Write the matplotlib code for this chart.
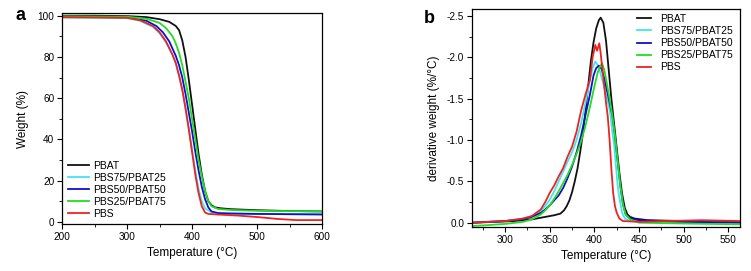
import numpy as np
import matplotlib
matplotlib.use("Agg")
import matplotlib.pyplot as plt
from matplotlib.ticker import MultipleLocator, FormatStrFormatter

plt.rcParams['font.family'] = ['Liberation Sans', 'DejaVu Sans']
plt.rcParams['axes.unicode_minus'] = False

labels = ["PBAT", "PBS75/PBAT25", "PBS50/PBAT50", "PBS25/PBAT75", "PBS"]
colors = ["#111111", "#44e4f0", "#1010cc", "#22dd22", "#ee2222"]

# --- panel a: TGA weight (%) vs temperature ---
tga_t_pbat = [200, 250, 300, 330, 350, 365, 375, 380, 385, 390, 395, 400, 405, 410, 415,
              420, 425, 430, 435, 445, 460, 500, 550, 600]
tga_w_pbat = [100, 100, 99.8, 99.3, 98.3, 97, 95, 93, 88, 80, 69, 57, 45, 33, 23,
              15, 10, 8, 7, 6.5, 6.1, 5.6, 5.2, 5.0]
tga_t_75 = [200, 300, 320, 340, 350, 360, 365, 370, 375, 380, 385, 390, 395, 400, 405,
            410, 415, 420, 430, 450, 500, 600]
tga_w_75 = [99, 98.8, 97.5, 94.5, 91.5, 87, 84, 81, 77, 71, 64, 55, 45, 35, 25,
            16, 10, 6.5, 4.5, 4, 3.8, 3.7]
tga_t_50 = [200, 300, 330, 345, 355, 365, 370, 375, 380, 385, 390, 395, 400, 405, 410,
            415, 420, 425, 430, 440, 460, 500, 600]
tga_w_50 = [99.5, 99.2, 97.5, 95, 92, 87.5, 84, 80.5, 76, 70, 62, 53, 44, 34, 25,
            17, 11, 7, 5, 4.2, 4, 3.8, 3.5]
tga_t_25 = [200, 300, 330, 350, 360, 370, 375, 380, 385, 390, 395, 400, 405, 410, 415,
            420, 425, 430, 440, 460, 500, 600]
tga_w_25 = [99.7, 99.5, 98.5, 96.5, 94, 90, 86.5, 82, 76, 68, 60, 50, 40, 30, 22,
            15, 10, 7.5, 6.2, 5.7, 5.3, 5.0]
tga_t_pbs = [200, 300, 320, 340, 350, 360, 370, 375, 380, 385, 390, 395, 400, 405, 410,
             415, 420, 425, 440, 470, 500, 530, 560, 600]
tga_w_pbs = [99.3, 99, 97.8, 95, 92, 87.5, 81, 77, 71, 64, 55, 45, 34, 23, 14,
             7.5, 4.5, 3.8, 3.5, 3.0, 2.3, 1.4, 0.8, 0.8]

# --- panel b: DTG derivative weight (%/°C) vs temperature ---
dtg_t_pbat = [263, 290, 310, 330, 345, 355, 362, 366, 369, 372, 375, 378, 381, 384, 387,
              390, 393, 396, 399, 402, 405, 407, 410, 413, 416, 419, 422, 425, 428, 431,
              434, 437, 440, 445, 460, 500, 563]
dtg_v_pbat = [0, -0.01, -0.02, -0.04, -0.07, -0.09, -0.11, -0.15, -0.2, -0.27, -0.37, -0.5,
              -0.65, -0.85, -1.07, -1.35, -1.65, -1.95, -2.18, -2.35, -2.45, -2.48, -2.42,
              -2.2, -1.85, -1.5, -1.2, -0.9, -0.6, -0.35, -0.18, -0.1, -0.07, -0.05, -0.03,
              -0.02, -0.01]
dtg_t_75 = [263, 300, 320, 330, 340, 345, 350, 355, 360, 365, 370, 375, 380, 385, 390,
            395, 398, 401, 404, 407, 410, 413, 416, 418, 420, 422, 424, 426, 428, 431,
            434, 440, 470, 563]
dtg_v_75 = [-0.005, -0.02, -0.05, -0.08, -0.15, -0.2, -0.28, -0.38, -0.5, -0.62, -0.74,
            -0.85, -1.0, -1.2, -1.45, -1.72, -1.87, -1.95, -1.9, -1.8, -1.68, -1.55, -1.42,
            -1.3, -1.1, -0.95, -0.7, -0.45, -0.3, -0.12, -0.05, -0.02, -0.005, 0.0]
dtg_t_50 = [263, 300, 320, 330, 340, 345, 350, 355, 360, 365, 370, 375, 380, 385, 390,
            395, 399, 402, 405, 408, 411, 414, 417, 420, 423, 426, 429, 432, 435, 440,
            450, 500, 563]
dtg_v_50 = [0.0, -0.02, -0.04, -0.07, -0.12, -0.16, -0.21, -0.27, -0.33, -0.42, -0.54,
            -0.68, -0.85, -1.05, -1.3, -1.55, -1.78, -1.87, -1.9, -1.86, -1.75, -1.6,
            -1.45, -1.3, -1.05, -0.75, -0.45, -0.22, -0.1, -0.05, -0.03, -0.01, 0.0]
dtg_t_25 = [263, 280, 300, 320, 330, 340, 345, 350, 355, 360, 365, 370, 375, 380, 385,
            390, 395, 400, 404, 406, 408.5, 411, 414, 417, 420, 423, 426, 429, 432, 435,
            440, 450, 500, 563]
dtg_v_25 = [0.04, 0.03, 0.015, -0.01, -0.04, -0.1, -0.15, -0.21, -0.29, -0.38, -0.48,
            -0.58, -0.7, -0.83, -0.98, -1.17, -1.4, -1.65, -1.83, -1.88, -1.93, -1.85,
            -1.68, -1.5, -1.3, -1.05, -0.75, -0.45, -0.22, -0.1, -0.04, 0.0, 0.01, 0.02]
dtg_t_pbs = [263, 300, 320, 330, 340, 345, 350, 355, 360, 365, 370, 375, 380, 385, 390,
             395, 398, 401, 403, 405.5, 407, 409, 411, 413, 415, 417, 419, 421, 423, 425,
             428, 432, 450, 480, 520, 563]
dtg_v_pbs = [0.0, -0.02, -0.05, -0.08, -0.16, -0.25, -0.36, -0.45, -0.56, -0.66, -0.8,
             -0.92, -1.1, -1.35, -1.55, -1.73, -2.0, -2.15, -2.08, -2.17, -2.05, -1.85,
             -1.65, -1.45, -1.28, -1.0, -0.65, -0.36, -0.2, -0.12, -0.05, -0.02, -0.01,
             -0.02, -0.03, -0.02]

tga = [(tga_t_pbat, tga_w_pbat), (tga_t_75, tga_w_75), (tga_t_50, tga_w_50),
       (tga_t_25, tga_w_25), (tga_t_pbs, tga_w_pbs)]
dtg = [(dtg_t_pbat, dtg_v_pbat), (dtg_t_75, dtg_v_75), (dtg_t_50, dtg_v_50),
       (dtg_t_25, dtg_v_25), (dtg_t_pbs, dtg_v_pbs)]

W, H = 751, 271
fig = plt.figure(figsize=(W / 100, H / 100), dpi=100)
ax1 = fig.add_axes([0.0826, 0.1734, 0.3462, 0.7786])
ax2 = fig.add_axes([0.6285, 0.1624, 0.3569, 0.8044])


def style_axes(ax):
    ax.tick_params(which='major', direction='out', length=3.5, width=0.8, labelsize=7.2, pad=2)
    ax.tick_params(which='minor', direction='out', length=2, width=0.6)
    for s in ax.spines.values():
        s.set_linewidth(0.9)


for (t, w), c, lab in zip(tga, colors, labels):
    ax1.plot(t, w, color=c, lw=1.3, label=lab)
ax1.set_xlim(200, 600)
ax1.set_ylim(-1.1, 101.3)
ax1.xaxis.set_major_locator(MultipleLocator(100))
ax1.xaxis.set_minor_locator(MultipleLocator(50))
ax1.yaxis.set_major_locator(MultipleLocator(20))
ax1.yaxis.set_minor_locator(MultipleLocator(10))
ax1.set_xlabel("Temperature (°C)", fontsize=8.5, labelpad=4)
ax1.set_ylabel("Weight (%)", fontsize=8.5, labelpad=6)
style_axes(ax1)
ax1.legend(loc='lower left', bbox_to_anchor=(68 / W, 1 - 219 / H),
           bbox_transform=fig.transFigure, frameon=False, fontsize=7.5,
           handlelength=2.0, handletextpad=0.4, labelspacing=0.2,
           borderpad=0, borderaxespad=0)

for (t, v), c, lab in zip(dtg, colors, labels):
    ax2.plot(t, v, color=c, lw=1.3, label=lab)
ax2.set_xlim(263, 563)
ax2.set_ylim(0.052, -2.585)
ax2.xaxis.set_major_locator(MultipleLocator(50))
ax2.xaxis.set_minor_locator(MultipleLocator(25))
ax2.yaxis.set_major_locator(MultipleLocator(0.5))
ax2.yaxis.set_minor_locator(MultipleLocator(0.25))
ax2.yaxis.set_major_formatter(FormatStrFormatter('%.1f'))
ax2.set_xlabel("Temperature (°C)", fontsize=8.5, labelpad=4)
ax2.set_ylabel("derivative weight (%/°C)", fontsize=8.5, labelpad=5)
style_axes(ax2)
ax2.legend(loc='upper right', bbox_to_anchor=(733 / W, 1 - 14 / H),
           bbox_transform=fig.transFigure, frameon=False, fontsize=7.5,
           handlelength=1.3, handletextpad=0.9, labelspacing=0.2,
           borderpad=0, borderaxespad=0)

fig.text(20.5 / W, 1 - 16 / H, "a", fontsize=13, fontweight='bold', ha='center', va='center')
fig.text(429.5 / W, 1 - 19 / H, "b", fontsize=13, fontweight='bold', ha='center', va='center')

fig.savefig("out.png", dpi=100)
